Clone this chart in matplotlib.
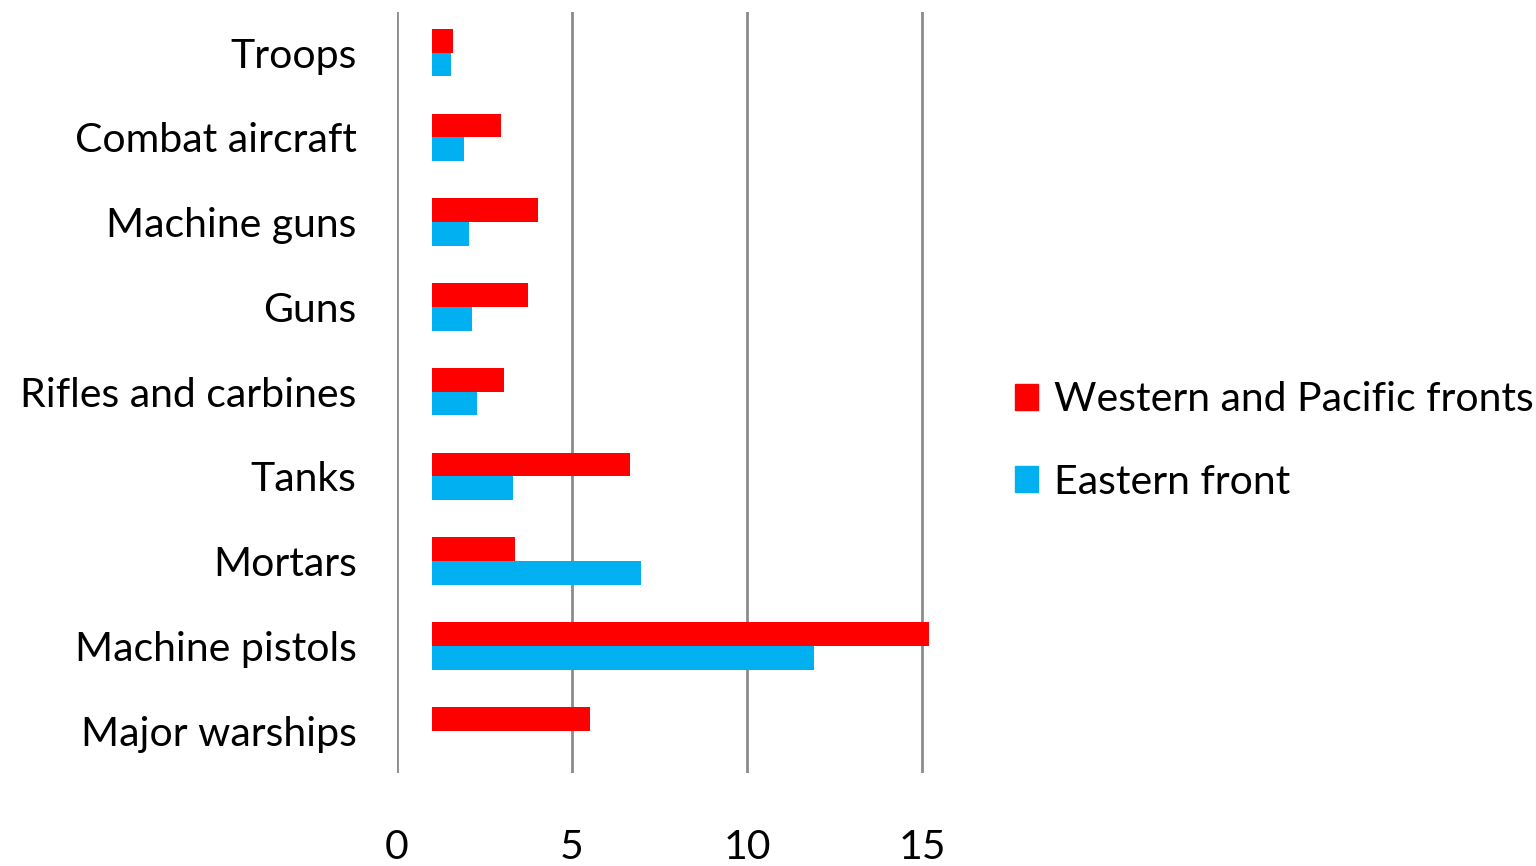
import matplotlib
matplotlib.use("Agg")
import matplotlib.pyplot as plt
import numpy as np
from matplotlib.patches import Patch

categories = ["Troops", "Combat aircraft", "Machine guns", "Guns", "Rifles and carbines",
              "Tanks", "Mortars", "Machine pistols", "Major warships"]
western = [1.6, 2.98, 4.04, 3.75, 3.07, 6.65, 3.38, 15.19, 5.50]
eastern = [1.55, 1.92, 2.06, 2.15, 2.29, 3.30, 6.96, 11.92, None]
baseline = 1.0
xticks = [0, 5, 10, 15]

plt.rcParams['font.family'] = ['Lato', 'DejaVu Sans']
FS = 29.5

fig = plt.figure(figsize=(15.36, 8.66), dpi=100)
ax = fig.add_axes([397/1536, 1 - 773/866, (922 - 397)/1536 * 15.6/15, (773 - 12)/866])

y = np.arange(len(categories))
h = 0.28
red = "#FF0000"
blue = "#00B0F0"
for i, (w, e) in enumerate(zip(western, eastern)):
    ax.barh(y[i] - h/2, w - baseline, left=baseline, height=h, color=red, zorder=3)
    if e is not None:
        ax.barh(y[i] + h/2, e - baseline, left=baseline, height=h, color=blue, zorder=3)

ax.set_ylim(len(categories) - 0.5 + 0.0, -0.48)
ax.set_xlim(0, 15.6)
ax.set_xticks(xticks)
ax.set_xticklabels([str(t) for t in xticks], fontsize=FS)
ax.set_yticks(y)
ax.set_yticklabels(categories, fontsize=FS)
ax.tick_params(axis='x', length=0, pad=40)
ax.tick_params(axis='y', length=0, pad=29)
for s in ax.spines.values():
    s.set_visible(False)
ax.grid(axis='x', color='#8C8C8C', linewidth=2, zorder=0)
ax.set_axisbelow(True)

handles = [Patch(color=red, label="Western and Pacific fronts"),
           Patch(color=blue, label="Eastern front")]
fig.legend(handles=handles, loc='center left', bbox_to_anchor=(1015/1536, 1 - 441/866),
           frameon=False, fontsize=FS, handlelength=0.57, handleheight=0.57,
           handletextpad=0.37, labelspacing=1.1, borderpad=0, borderaxespad=0)

fig.savefig("out.png", dpi=100)
